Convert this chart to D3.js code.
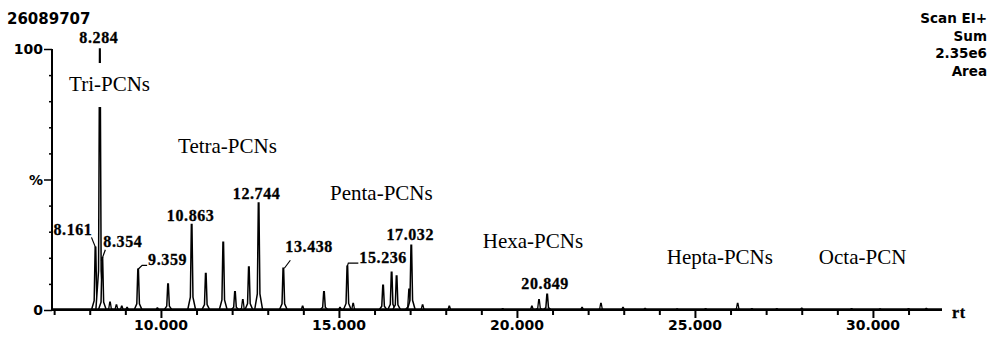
<!DOCTYPE html>
<html>
<head>
<meta charset="utf-8">
<script src="https://cdn.jsdelivr.net/npm/d3@7"></script>
<style>
    body { margin: 0; background: #fff; }
    svg { display: block; }
    .ax { font-family: "DejaVu Sans", sans-serif; font-weight: bold; fill: #000; }
    .pk { font-family: "Liberation Serif", serif; font-weight: bold; font-size: 16px; fill: #000;
          letter-spacing: 0.6px; stroke: #000; stroke-width: 0.3px; }
    .grp { font-family: "Liberation Serif", serif; font-size: 21px; fill: #000; }
</style>
</head>
<body>
<svg id="chart" width="990" height="340"></svg>
<script>
/*global d3 */
// retention time (min) and relative intensity (%) of the resolved peaks
var peakRT = [8.161, 8.284, 8.354, 9.359, 10.2, 10.863, 11.26, 11.75, 12.08, 12.47, 12.744,
    13.438, 14.58, 15.236, 16.24, 16.48, 16.62, 17.032, 20.849];
var peakPct = [24, 100, 20, 15.6, 10, 32.8, 14, 26, 7, 16.5, 41,
    16, 7, 16.8, 9.5, 14.5, 13, 24.8, 6];

// small peaks and baseline bumps
var minorRT = [8.57, 8.75, 8.9, 9.05, 9.9, 12.3, 13.98, 15.03, 15.4, 16.97, 17.35, 18.1, 19.6,
    20.42, 20.62, 21.83, 22.36, 22.98, 23.6, 24.5, 25.3, 26.2, 26.6, 27.3, 28.0, 29.4, 30.2, 31.0, 31.5];
var minorPct = [3, 2, 1.5, 1, 0.8, 4, 1.5, 1, 2.5, 8, 2, 1.5, 0.5,
    1.5, 4, 1, 2.5, 1, 0.6, 0.4, 0.5, 2.5, 0.5, 0.5, 0.7, 0.5, 0.4, 0.5, 0.6];

var labelRT = [8.161, 8.284, 8.354, 9.359, 10.863, 12.744, 13.438, 15.236, 17.032, 20.849];
var groupNames = ["Tri-PCNs", "Tetra-PCNs", "Penta-PCNs", "Hexa-PCNs", "Hepta-PCNs", "Octa-PCN"];
var groupRT = [7.42, 10.48, 14.75, 19.04, 24.21, 28.48];
var groupPct = [83.9, 60.2, 42.1, 23.8, 17.6, 17.6];

var xTicks = [10, 15, 20, 25, 30];
var yTicks = [0, 50, 100];
var yTickText = ["0", "%", "100"];
var headerLeft = "26089707";
var headerRight = ["Scan EI+", "Sum", "2.35e6", "Area"];

// label placement relative to the peak top: text offset, anchor, leader line
var labelLayout = {
    "8.161": { dx: -3, dy: -12, anchor: "end", leader: [[-4, -10], [0, 0]] },
    "8.284": { dx: -1, dy: -6, anchor: "middle" },
    "8.354": { dx: 1, dy: -11, anchor: "start", leader: [[-1, 3], [3, -8]] },
    "9.359": { dx: 10, dy: -4, anchor: "start", leader: [[0, 0], [4, -4], [9, -4]] },
    "10.863": { dx: -1, dy: -3, anchor: "middle" },
    "12.744": { dx: -2, dy: -4, anchor: "middle" },
    "13.438": { dx: 2, dy: -16, anchor: "start", leader: [[1, 0], [7, -8]] },
    "15.236": { dx: 12, dy: -3, anchor: "start", leader: [[0, 0], [1, -3], [11, -3]] },
    "17.032": { dx: -1, dy: -5, anchor: "middle" },
    "20.849": { dx: -2, dy: -5, anchor: "middle" }
};

var svg = d3.select("#chart");
var x = d3.scaleLinear().domain([6.94, 31.94]).range([52, 942]);
var y = d3.scaleLinear().domain([0, 100]).range([310, 49]);

// axes
var xAxis = d3.axisBottom(x).tickValues(d3.range(7, 32, 1)).tickSize(5).tickFormat("");
svg.append("g").attr("transform", "translate(0," + y(0) + ")").call(xAxis)
    .call(function (g) {
        g.select(".domain").remove();
        g.selectAll(".tick line").attr("stroke-width", 2)
            .attr("y2", function (d) { return d % 5 === 0 ? 8 : 5; });
    });
svg.append("line").attr("x1", x.range()[0]).attr("x2", x.range()[1])
    .attr("y1", y(0)).attr("y2", y(0)).attr("stroke", "#000").attr("stroke-width", 2);

svg.append("g").attr("class", "ax").selectAll("text").data(xTicks).join("text")
    .attr("x", function (d) { return x(d); }).attr("y", 330)
    .attr("text-anchor", "middle").attr("font-size", 14)
    .text(function (d) { return d.toFixed(3); });

var yAxis = d3.axisLeft(y).tickValues(d3.range(0, 101, 10)).tickSize(3).tickFormat("");
svg.append("g").attr("transform", "translate(" + x.range()[0] + ",0)").call(yAxis)
    .call(function (g) {
        g.select(".domain").remove();
        g.selectAll(".tick line").attr("stroke-width", 1.5)
            .attr("x2", function (d) { return d % 50 === 0 ? -8 : -3; });
    });
svg.append("line").attr("x1", x.range()[0]).attr("x2", x.range()[0])
    .attr("y1", y(100)).attr("y2", y(0)).attr("stroke", "#000").attr("stroke-width", 2);

svg.append("g").attr("class", "ax").selectAll("text").data(yTicks).join("text")
    .attr("x", 43).attr("y", function (d) { return y(d) + 5; })
    .attr("text-anchor", "end").attr("font-size", 14)
    .text(function (d, i) { return yTickText[i]; });

// header texts
svg.append("text").attr("class", "ax").attr("x", 7).attr("y", 24).attr("font-size", 15).text(headerLeft);
svg.append("g").attr("class", "ax").selectAll("text").data(headerRight).join("text")
    .attr("x", 987).attr("y", function (d, i) { return 23 + i * 17.5; })
    .attr("text-anchor", "end").attr("font-size", 13.5)
    .text(function (d) { return d; });
svg.append("text").attr("class", "pk").attr("x", 952).attr("y", 318).attr("font-size", 15).text("rt");

// trace: every peak as a narrow spike on the baseline
function spike(rt, pct) {
    var px = x(rt), b = y(0), t = y(pct), s = y(pct * 0.15);
    return "M" + (px - 4) + "," + b + "L" + (px - 1.3) + "," + s + "L" + (px - 0.3) + "," + t +
        "L" + (px + 0.3) + "," + t + "L" + (px + 1.3) + "," + s + "L" + (px + 4) + "," + b + "Z";
}
var trace = svg.append("g");
trace.selectAll("path.minor").data(minorRT).join("path").attr("class", "minor")
    .attr("d", function (d, i) { return spike(d, minorPct[i]); })
    .attr("fill", "#fff").attr("stroke", "#000").attr("stroke-width", 1.3);
trace.selectAll("path.main").data(peakRT).join("path").attr("class", "main")
    .attr("d", function (d, i) { return spike(d, peakPct[i]); })
    .attr("fill", "#fff").attr("stroke", "#000").attr("stroke-width", 1.5);
svg.append("line").attr("x1", x.range()[0]).attr("x2", x.range()[1])
    .attr("y1", y(0) - 0.5).attr("y2", y(0) - 0.5).attr("stroke", "#000").attr("stroke-width", 2.5);

// congener group names, boxed in white like the original plot
var groups = svg.append("g");
groupNames.forEach(function (name, i) {
    var t = groups.append("text").attr("class", "grp")
        .attr("x", x(groupRT[i])).attr("y", y(groupPct[i])).text(name);
    var bb = t.node().getBBox();
    groups.insert("rect", "text").attr("x", bb.x - 2).attr("y", bb.y - 9)
        .attr("width", bb.width + 4).attr("height", bb.height + 20).attr("fill", "#fff");
});

// peak labels
var labels = svg.append("g");
labelRT.forEach(function (rt) {
    var key = rt.toFixed(3), lay = labelLayout[key];
    var idx = peakRT.indexOf(rt), px = x(rt), py = y(peakPct[idx]);
    if (lay.leader) {
        labels.append("path")
            .attr("d", d3.line()(lay.leader.map(function (p) { return [px + p[0], py + p[1]]; })))
            .attr("fill", "none").attr("stroke", "#000").attr("stroke-width", 1.2);
    }
    labels.append("text").attr("class", "pk")
        .attr("x", px + lay.dx).attr("y", py + lay.dy)
        .attr("text-anchor", lay.anchor).text(key);
});
</script>
</body>
</html>
